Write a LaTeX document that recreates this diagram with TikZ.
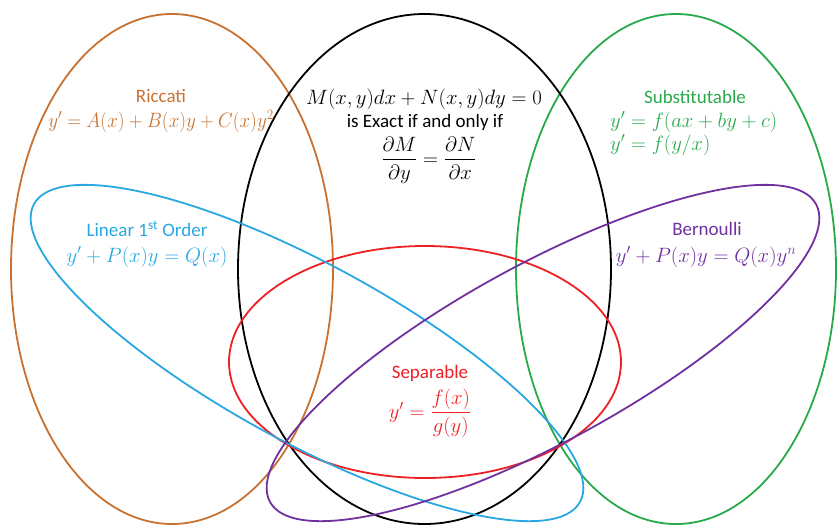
\documentclass[tikz,border=0pt]{standalone}
\usepackage{amsmath}
\usepackage{fontspec}
\setmainfont{Carlito}
\definecolor{cOrange}{RGB}{200,114,50}
\definecolor{cBlue}{RGB}{41,167,224}
\definecolor{cGreen}{RGB}{40,170,75}
\definecolor{cRed}{RGB}{237,32,36}
\definecolor{cPurple}{RGB}{112,48,160}
\tikzset{
  ring/.style={line width=1.8pt},
  lbl/.style={inner sep=0pt, anchor=base, font=\fontsize{19}{23}\selectfont},
  mth/.style={inner sep=0pt, anchor=base, font=\fontsize{20}{24}\selectfont}
}
\begin{document}
\begin{tikzpicture}[x=1pt,y=1pt]
\useasboundingbox (0,0) rectangle (837,-525);
% ellipses
\draw[ring,cOrange] (172,-269) ellipse [x radius=161pt, y radius=255pt];
\draw[ring,cGreen] (676,-269) ellipse [x radius=160pt, y radius=255pt];
\draw[ring,black] (424.5,-269) ellipse [x radius=186.5pt, y radius=255pt];
\draw[ring,cRed] (425,-362) ellipse [x radius=196pt, y radius=116pt];
\draw[ring,cBlue,rotate around={-28.6:(307,-353)}] (307,-353) ellipse [x radius=311pt, y radius=89pt];
\draw[ring,cPurple,rotate around={28.6:(543,-353)}] (543,-353) ellipse [x radius=311pt, y radius=89pt];
% texts
\node[lbl,cOrange] (ricT) at (161,-102) {Riccati};
\node[mth,cOrange,xscale=0.92] (ricF) at (161,-127) {$y' = A(x) + B(x)y + C(x)y^2$};
\node[mth,black] (exA) at (424,-104) {$M(x,y)dx + N(x,y)dy = 0$};
\node[lbl,black] (exB) at (425,-127) {is Exact if and only if};
\node[mth,black,anchor=center] (exC) at (429,-160) {$\dfrac{\partial M}{\partial y} = \dfrac{\partial N}{\partial x}$};
\node[lbl,cGreen] (subT) at (695,-103) {Substitutable};
\node[mth,cGreen,anchor=base west] (subA) at (610,-127) {$y' = f(ax + by + c)$};
\node[mth,cGreen,anchor=base west] (subB) at (610,-150) {$y' = f(y/x)$};
\node[lbl,cBlue] (linT) at (147,-236) {Linear 1\textsuperscript{st} Order};
\node[mth,cBlue] (linF) at (147,-262) {$y' + P(x)y = Q(x)$};
\node[lbl,cPurple] (berT) at (707,-235) {Bernoulli};
\node[mth,cPurple] (berF) at (706,-262) {$y' + P(x)y = Q(x)y^n$};
\node[lbl,cRed] (sepT) at (430,-378) {Separable};
\node[mth,cRed,anchor=center] (sepF) at (430,-413) {$y' = \dfrac{f(x)}{g(y)}$};
\end{tikzpicture}
\end{document}
